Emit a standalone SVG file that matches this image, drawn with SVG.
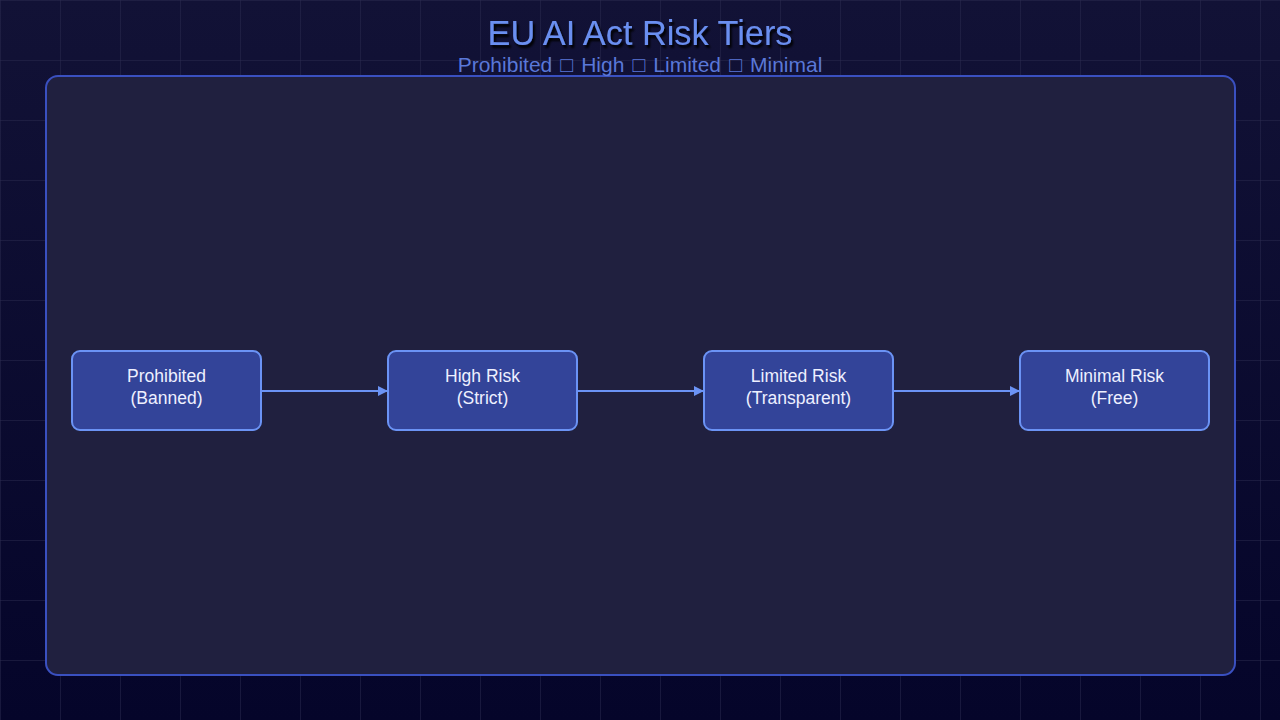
<svg xmlns="http://www.w3.org/2000/svg" width="1280" height="720" viewBox="0 0 1280 720">
<defs>
<linearGradient id="bg" x1="0" y1="0" x2="0" y2="1">
<stop offset="0" stop-color="#121236"/>
<stop offset="1" stop-color="#05052a"/>
</linearGradient>
<pattern id="grid" width="60" height="60" patternUnits="userSpaceOnUse">
<path d="M60 0H0V60" fill="none" stroke="#2c2c50" stroke-width="1"/>
</pattern>
<marker id="arr" viewBox="0 0 10 10" refX="10" refY="5" markerWidth="10" markerHeight="10" markerUnits="userSpaceOnUse" orient="auto">
<path d="M0 0L10 5L0 10z" fill="#6b93f5"/>
</marker>
<filter id="sh" x="-10%" y="-30%" width="120%" height="160%">
<feDropShadow dx="2" dy="3" stdDeviation="1" flood-color="#000000" flood-opacity="1"/>
</filter>
</defs>
<style>
.node rect{fill:#334499;stroke:#6b93f5;stroke-width:2}
.node text{font-family:"Liberation Sans",Arial,sans-serif;font-size:17.5px;fill:#eef0ff;text-anchor:middle}
.conn line{stroke:#6b93f5;stroke-width:2;marker-end:url(#arr)}
.title{font-family:"Liberation Sans",Arial,sans-serif;text-anchor:middle}
</style>
<rect x="0" y="0" width="1280" height="720" fill="url(#bg)"/>
<rect x="0" y="0" width="1280" height="720" fill="url(#grid)"/>
<rect x="46" y="76" width="1189" height="599" rx="12" fill="#20203f" stroke="#3a50c0" stroke-width="2"/>
<text class="title" x="640" y="45" font-size="34.3" fill="#6b8ff0" filter="url(#sh)">EU AI Act Risk Tiers</text>
<text class="title" x="640" y="72" font-size="21" word-spacing="2.3" fill="#5a78d8">Prohibited □ High □ Limited □ Minimal</text>
<g class="conn" id="connectors">
<line x1="262" y1="391" x2="388" y2="391"/>
<line x1="578" y1="391" x2="704" y2="391"/>
<line x1="894" y1="391" x2="1020" y2="391"/>
</g>
<g class="node" id="prohibited">
<rect x="72" y="351" width="189" height="79" rx="8"/>
<text x="166.5" y="382">Prohibited</text>
<text x="166.5" y="404">(Banned)</text>
</g>
<g class="node" id="high">
<rect x="388" y="351" width="189" height="79" rx="8"/>
<text x="482.5" y="382">High Risk</text>
<text x="482.5" y="404">(Strict)</text>
</g>
<g class="node" id="limited">
<rect x="704" y="351" width="189" height="79" rx="8"/>
<text x="798.5" y="382">Limited Risk</text>
<text x="798.5" y="404">(Transparent)</text>
</g>
<g class="node" id="minimal">
<rect x="1020" y="351" width="189" height="79" rx="8"/>
<text x="1114.5" y="382">Minimal Risk</text>
<text x="1114.5" y="404">(Free)</text>
</g>
</svg>
